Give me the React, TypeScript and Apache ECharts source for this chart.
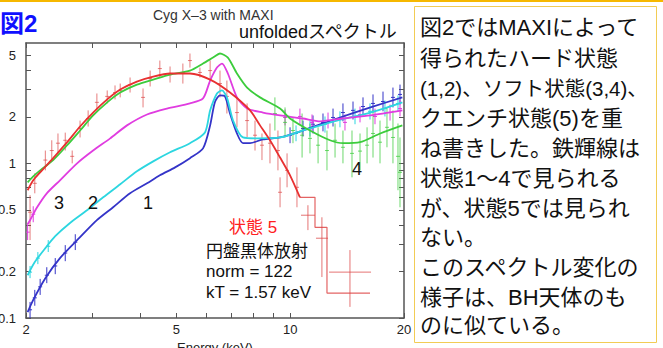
import { useEffect, useRef } from "react";
import * as echarts from "echarts";

// ---- axes ----
const xLabelValues = [2, 5, 10, 20];
const xTickValues = [2, 3, 4, 5, 6, 7, 8, 9, 10, 20];
const yLabelValues = [0.1, 0.2, 0.5, 1, 2, 5];
const yTickValues = [0.1, 0.2, 0.3, 0.4, 0.5, 0.6, 0.7, 0.8, 0.9, 1, 2, 3, 4, 5];

// ---- model curves (E keV, photons) ----
const state1E = [2.02, 2.09, 2.25, 2.46, 2.78, 3.08, 3.4, 3.77, 4.18, 4.52, 4.96, 5.43, 5.88, 6.14, 6.32, 6.52, 6.72, 6.93, 7.23, 7.5, 7.83, 8.47, 9.4, 10.8, 13.3, 16.3, 19.8];
const state1V = [0.109, 0.131, 0.181, 0.244, 0.333, 0.429, 0.52, 0.64, 0.743, 0.837, 0.942, 1.08, 1.25, 1.76, 2.48, 2.75, 2.71, 2.1, 1.56, 1.35, 1.35, 1.43, 1.47, 1.63, 1.95, 2.3, 2.67];

const state2E = [2.02, 2.11, 2.25, 2.39, 2.61, 2.9, 3.2, 3.55, 3.93, 4.34, 4.81, 5.43, 5.95, 6.14, 6.4, 6.6, 6.8, 7.06, 7.5, 8.17, 9.4, 10.8, 13.3, 16.3, 19.8];
const state2V = [0.189, 0.23, 0.283, 0.338, 0.41, 0.497, 0.603, 0.732, 0.888, 1.03, 1.18, 1.35, 1.585, 2.2, 2.83, 2.96, 2.67, 1.89, 1.47, 1.45, 1.47, 1.63, 1.89, 2.13, 2.48];

const state3E = [2.02, 2.05, 2.14, 2.27, 2.46, 2.73, 3.01, 3.34, 3.7, 4.18, 4.72, 5.43, 5.88, 6.14, 6.4, 6.6, 6.84, 7.23, 7.69, 8.47, 9.4, 10.8, 12.0, 13.8, 16.3, 19.8];
const state3V = [0.404, 0.429, 0.52, 0.64, 0.777, 1.0, 1.21, 1.45, 1.76, 2.07, 2.26, 2.44, 2.63, 3.43, 4.16, 4.42, 3.81, 2.67, 2.26, 2.13, 2.04, 1.95, 1.87, 1.95, 2.04, 2.2];

const state4E = [2.02, 2.09, 2.18, 2.36, 2.57, 2.78, 3.01, 3.28, 3.55, 3.93, 4.34, 4.81, 5.43, 5.88, 6.25, 6.52, 6.84, 7.23, 7.69, 8.32, 9.4, 9.99, 11.28, 12.74, 13.8, 15.3, 17.3, 19.8];
const state4V = [0.754, 0.824, 0.901, 1.05, 1.31, 1.63, 2.04, 2.48, 2.87, 3.23, 3.48, 3.75, 3.98, 4.42, 4.83, 5.13, 4.83, 3.81, 3.09, 2.67, 2.26, 1.95, 1.63, 1.41, 1.35, 1.37, 1.56, 1.76];

const state5E = [2.02, 2.09, 2.18, 2.36, 2.57, 2.78, 3.01, 3.28, 3.55, 3.93, 4.34, 4.81, 5.43, 6.14, 6.93, 7.83, 8.32, 8.84, 9.4, 9.99, 10.61];
const state5V = [0.67, 0.777, 0.875, 1.08, 1.37, 1.73, 2.13, 2.59, 3.0, 3.38, 3.64, 3.81, 3.81, 3.48, 2.87, 2.2, 1.76, 1.41, 1.09, 0.837, 0.603];
const state5StepE = [10.61, 11.63, 12.51, 16.26];
const state5StepV = [0.603, 0.386, 0.145, 0.145];

// ---- data points with errors ----
const redE = [2.05, 2.11, 2.25, 2.34, 2.43, 2.54, 2.65, 2.78, 2.92, 3.08, 3.28, 3.44, 3.55, 3.77, 4.08, 4.26, 4.52, 4.81, 5.2, 5.43, 5.77, 6.14, 6.52, 6.8, 7.23, 7.69, 8.07, 8.42, 8.84, 9.28, 9.4, 9.81, 10.42];
const redV = [0.483, 0.743, 1.05, 1.21, 1.35, 1.41, 1.11, 1.68, 1.95, 2.48, 2.71, 2.87, 2.96, 3.23, 2.67, 3.53, 4.1, 3.75, 3.87, 4.62, 3.87, 3.98, 3.28, 2.71, 2.13, 1.89, 1.52, 1.31, 1.35, 1.21, 0.65, 0.901, 0.7];
const redHi = [0.622, 0.862, 1.21, 1.41, 1.56, 1.58, 1.21, 1.89, 2.2, 2.83, 2.96, 3.19, 3.28, 3.59, 3.05, 3.98, 4.62, 4.23, 4.42, 5.13, 4.16, 4.62, 3.98, 3.43, 2.67, 2.44, 1.89, 1.56, 1.81, 1.63, 0.812, 1.16, 0.942];
const redLo = [0.319, 0.64, 0.901, 1.05, 1.16, 1.21, 1.0, 1.47, 1.73, 2.2, 2.44, 2.59, 2.67, 2.87, 2.3, 3.14, 3.59, 3.33, 3.28, 4.16, 3.59, 3.43, 2.67, 2.1, 1.71, 1.47, 1.21, 1.05, 1.0, 0.901, 0.52, 0.7, 0.52];

const redWideE = [11.14, 12.13, 14.39];
const redWideV = [0.462, 0.328, 0.198];
const redWideLo = [0.37, 0.184, 0.118];
const redWideHi = [0.536, 0.448, 0.275];
const redWideELo = [10.68, 11.7, 12.67];
const redWideEHi = [11.63, 12.59, 16.36];

const greenDE = [9.11, 9.69, 10.17, 10.75, 11.28, 11.85, 12.51, 13.14, 13.79, 14.57, 15.3, 15.97, 16.56, 17.28, 18.03, 18.7, 19.28, 19.52];
const greenDV = [2.1, 1.84, 1.63, 1.52, 1.45, 1.31, 1.21, 1.41, 1.27, 1.16, 1.2, 1.31, 1.56, 1.37, 1.71, 1.47, 1.11, 0.875];
const greenDHi = [2.67, 2.3, 1.98, 2.1, 1.81, 1.71, 1.63, 1.81, 1.63, 1.63, 1.56, 1.71, 2.2, 1.89, 2.3, 2.2, 1.81, 1.47];
const greenDLo = [1.63, 1.47, 1.35, 1.09, 1.16, 1.0, 0.901, 1.09, 1.0, 0.812, 0.901, 1.0, 1.09, 1.0, 1.27, 1.0, 0.67, 0.52];

const blueDE = [2.05, 2.11, 2.18, 2.27, 2.39, 2.54, 2.7, 9.99, 10.81, 11.49, 12.21, 12.98, 13.79, 14.66, 15.58, 16.56, 17.6, 18.7, 19.52];
const blueDV = [0.113, 0.135, 0.159, 0.189, 0.217, 0.263, 0.309, 1.52, 1.68, 1.79, 1.84, 1.98, 2.13, 2.2, 2.33, 2.44, 2.51, 2.67, 2.79];
const blueDHi = [0.127, 0.152, 0.179, 0.213, 0.244, 0.296, 0.348, 1.71, 1.89, 2.04, 2.1, 2.26, 2.44, 2.51, 2.67, 2.79, 2.91, 3.09, 3.23];
const blueDLo = [0.1, 0.12, 0.141, 0.168, 0.192, 0.233, 0.275, 1.35, 1.49, 1.56, 1.61, 1.73, 1.87, 1.92, 2.04, 2.13, 2.17, 2.3, 2.4];

const cyanDE = [2.05, 2.15, 2.29, 10.36, 11.28, 12.36, 13.54, 14.84, 16.26, 17.81, 19.28];
const cyanDV = [0.198, 0.244, 0.291, 1.56, 1.68, 1.79, 1.92, 2.01, 2.17, 2.26, 2.44];
const cyanDHi = [0.217, 0.267, 0.319, 1.76, 1.89, 2.01, 2.17, 2.26, 2.44, 2.55, 2.75];
const cyanDLo = [0.181, 0.223, 0.267, 1.39, 1.49, 1.58, 1.71, 1.79, 1.92, 2.01, 2.17];

const magDE = [2.02, 2.09, 9.69, 10.61, 11.42, 12.59, 13.96, 15.3, 16.76, 18.37, 19.52];
const magDV = [0.359, 0.469, 1.98, 2.01, 1.84, 1.89, 1.84, 2.07, 2.01, 2.13, 2.26];
const magDHi = [0.404, 0.528, 2.23, 2.26, 2.07, 2.13, 2.07, 2.33, 2.26, 2.4, 2.55];
const magDLo = [0.319, 0.416, 1.76, 1.79, 1.63, 1.68, 1.63, 1.84, 1.79, 1.89, 2.01];

// ---- texts ----
const figLabel = "図2";
const chartTitle = "Cyg X\u20133 with MAXI";
const subTitle = "unfoldedスペクトル";
const xAxisName = "Energy (keV)";
const stateLabels = [
  { text: "3", x: 59, y: 203 },
  { text: "2", x: 93, y: 203 },
  { text: "1", x: 148, y: 203 },
  { text: "4", x: 357, y: 169 },
];
const state5Title = "状態 5";
const state5Notes = ["円盤黒体放射", "norm = 122", "kT = 1.57 keV"];
const boxLines = [
  "図2ではMAXIによって",
  "得られたハード状態",
  "(1,2)、ソフト状態(3,4)、",
  "クエンチ状態(5)を重",
  "ね書きした。鉄輝線は",
  "状態1～4で見られる",
  "が、状態5では見られ",
  "ない。",
  "このスペクトル変化の",
  "様子は、BH天体のも",
  "のに似ている。",
];
const boxLineY = [27, 58, 88, 118, 148, 178, 208, 237, 267, 297, 325];
const boxLineSize = [22, 22, 20.5, 22, 22, 22, 22, 22, 22, 22, 22];

const FONT = "'Liberation Sans', 'Noto Sans CJK JP', Arial, sans-serif";

const C_BLUE = "#3434c8";
const C_CYAN = "#2cd6e0";
const C_MAG = "#e03ce0";
const C_GREEN = "#3ccc3c";
const C_RED = "#e83030";

function zip(a: number[], b: number[]) {
  return a.map((v, i) => [v, b[i]]);
}

function errItems(E: number[], V: number[], Lo: number[], Hi: number[], ELo?: number[], EHi?: number[]) {
  return E.map((e, i) => [e, V[i], Lo[i], Hi[i], ELo ? ELo[i] : 0, EHi ? EHi[i] : 0]);
}

function errSeries(data: number[][], color: string, cap: number, z: number) {
  return {
    type: "custom",
    xAxisIndex: 0,
    yAxisIndex: 0,
    silent: true,
    clip: true,
    z,
    encode: { x: 0, y: 1 },
    data,
    renderItem: (_params: any, api: any) => {
      const e = api.value(0);
      const v = api.value(1);
      const lo = api.value(2);
      const hi = api.value(3);
      const eLo = api.value(4);
      const eHi = api.value(5);
      const c = api.coord([e, v]);
      const t = api.coord([e, hi]);
      const b = api.coord([e, lo]);
      let x0 = c[0] - cap;
      let x1 = c[0] + cap;
      if (eLo > 0 && eHi > 0) {
        x0 = api.coord([eLo, v])[0];
        x1 = api.coord([eHi, v])[0];
      }
      return {
        type: "group",
        children: [
          { type: "line", shape: { x1: c[0], y1: t[1], x2: c[0], y2: b[1] }, style: { stroke: color, lineWidth: 1 } },
          { type: "line", shape: { x1: x0, y1: c[1], x2: x1, y2: c[1] }, style: { stroke: color, lineWidth: 1 } },
        ],
      };
    },
  };
}

function lineSeries(E: number[], V: number[], color: string, z: number, extra: any = {}) {
  return {
    type: "line",
    xAxisIndex: 0,
    yAxisIndex: 0,
    data: zip(E, V),
    showSymbol: false,
    smooth: 0.25,
    silent: true,
    z,
    lineStyle: { color, width: 1.8 },
    ...extra,
  };
}

const axisColor = "#555";

export default function App() {
  const ref = useRef<HTMLDivElement>(null);
  useEffect(() => {
    if (!ref.current) return;
    const chart = echarts.init(ref.current, undefined, { renderer: "svg" });
    const fmt = (v: number) => String(+(+v).toPrecision(3));
    const xBase = {
      type: "log",
      logBase: 10,
      min: 2,
      max: 20,
      gridIndex: 0,
      splitLine: { show: false },
      axisLine: { show: true, lineStyle: { color: axisColor, width: 1.5 } },
      axisTick: { show: true, inside: true, length: 5, customValues: xTickValues, lineStyle: { color: axisColor, width: 1 } },
    };
    const yBase = {
      type: "log",
      logBase: 10,
      min: 0.1,
      max: 6,
      gridIndex: 0,
      splitLine: { show: false },
      axisLine: { show: true, lineStyle: { color: axisColor, width: 1.5 } },
      axisTick: { show: true, inside: true, length: 5, customValues: yTickValues, lineStyle: { color: axisColor, width: 1 } },
    };
    const option: any = {
      animation: false,
      backgroundColor: "#ffffff",
      grid: { left: 26, right: 259, top: 43, bottom: 30, containLabel: false, outerBoundsMode: "none" },
      xAxis: [
        {
          ...xBase,
          position: "bottom",
          axisLabel: {
            customValues: xLabelValues,
            formatter: fmt,
            color: "#222",
            fontSize: 13,
            fontFamily: FONT,
            margin: 5,
            showMinLabel: true,
            showMaxLabel: true,
          },
          name: xAxisName,
          nameLocation: "middle",
          nameGap: 22,
          nameTextStyle: { color: "#222", fontSize: 13, fontFamily: FONT, verticalAlign: "top" },
        },
        { ...xBase, position: "top", axisLabel: { show: false } },
      ],
      yAxis: [
        {
          ...yBase,
          position: "left",
          axisLabel: {
            customValues: yLabelValues,
            formatter: fmt,
            color: "#222",
            fontSize: 13,
            fontFamily: FONT,
            margin: 10,
            showMinLabel: true,
            showMaxLabel: true,
          },
        },
        { ...yBase, position: "right", axisLabel: { show: false } },
      ],
      series: [
        errSeries(errItems(blueDE, blueDV, blueDLo, blueDHi), C_BLUE, 2, 2),
        errSeries(errItems(cyanDE, cyanDV, cyanDLo, cyanDHi), C_CYAN, 2, 2),
        errSeries(errItems(magDE, magDV, magDLo, magDHi), C_MAG, 2, 2),
        errSeries(errItems(greenDE, greenDV, greenDLo, greenDHi), "rgba(60,204,60,0.75)", 2, 2),
        errSeries(errItems(redE, redV, redLo, redHi), "rgba(220,70,70,0.7)", 2, 2),
        errSeries(errItems(redWideE, redWideV, redWideLo, redWideHi, redWideELo, redWideEHi), "rgba(220,70,70,0.75)", 2, 2),
        lineSeries(state1E, state1V, C_BLUE, 3),
        lineSeries(state2E, state2V, C_CYAN, 3),
        lineSeries(state3E, state3V, C_MAG, 3),
        lineSeries(state4E, state4V, C_GREEN, 3),
        lineSeries(state5E, state5V, C_RED, 4),
        lineSeries(state5StepE, state5StepV, "rgba(220,60,60,0.8)", 4, { smooth: false, step: "end", lineStyle: { color: "rgba(220,60,60,0.8)", width: 1.2 } }),
      ],
      graphic: [
        { type: "rect", z: 10, shape: { x: 0, y: 0, width: 663, height: 2 }, style: { fill: "#f6b800" } },
        {
          type: "text",
          z: 10,
          x: 0,
          y: 23,
          style: { text: figLabel, fill: "#1010ff", font: `bold 24px ${FONT}`, verticalAlign: "middle", align: "left" },
        },
        {
          type: "text",
          z: 10,
          x: 153,
          y: 15,
          style: { text: chartTitle, fill: "#333", font: `14px ${FONT}`, verticalAlign: "middle", align: "left" },
        },
        {
          type: "text",
          z: 10,
          x: 239,
          y: 32,
          style: { text: subTitle, fill: "#111", font: `18px ${FONT}`, verticalAlign: "middle", align: "left" },
        },
        ...stateLabels.map((s) => ({
          type: "text",
          z: 10,
          x: s.x,
          y: s.y,
          style: { text: s.text, fill: "#111", font: `18px ${FONT}`, verticalAlign: "middle", align: "center" },
        })),
        {
          type: "text",
          z: 10,
          x: 229,
          y: 227,
          style: { text: state5Title, fill: "#ff2020", font: `17px ${FONT}`, verticalAlign: "middle", align: "left" },
        },
        ...state5Notes.map((t, i) => ({
          type: "text",
          z: 10,
          x: 206,
          y: [251, 271, 292][i],
          style: { text: t, fill: "#111", font: `17px ${FONT}`, verticalAlign: "middle", align: "left" },
        })),
        {
          type: "rect",
          z: 10,
          shape: { x: 414.5, y: 6.5, width: 242, height: 336 },
          style: { fill: "#ffffff", stroke: "#f2cc55", lineWidth: 1 },
        },
        ...boxLines.map((t, i) => ({
          type: "text",
          z: 11,
          x: 420,
          y: boxLineY[i],
          style: { text: t, fill: "#111", font: `${boxLineSize[i]}px ${FONT}`, verticalAlign: "middle", align: "left" },
        })),
      ],
    };
    chart.setOption(option);
    return () => chart.dispose();
  }, []);
  return <div ref={ref} style={{ position: "absolute", left: 0, top: 0, width: 663, height: 348 }} />;
}
